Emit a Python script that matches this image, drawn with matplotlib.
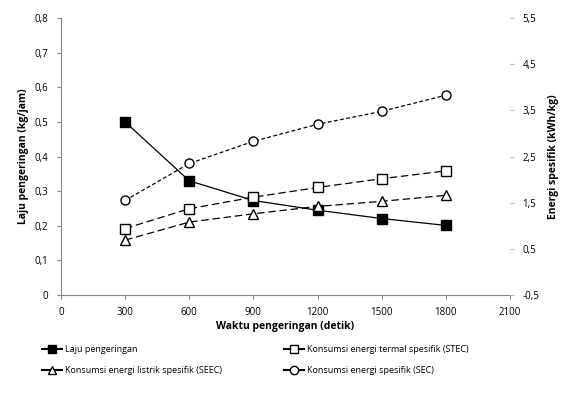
import matplotlib
matplotlib.use("Agg")
import matplotlib.pyplot as plt
from matplotlib.lines import Line2D
from matplotlib.ticker import FuncFormatter

plt.rcParams["font.family"] = ["Open Sans", "DejaVu Sans"]

# data
waktu = [300, 600, 900, 1200, 1500, 1800]
laju = [0.50, 0.33, 0.273, 0.245, 0.221, 0.201]
stec = [0.94, 1.37, 1.62, 1.83, 2.02, 2.19]
seec = [0.69, 1.08, 1.26, 1.42, 1.53, 1.66]
sec = [1.55, 2.35, 2.83, 3.20, 3.48, 3.83]

x_ticks = [0, 300, 600, 900, 1200, 1500, 1800, 2100]
left_ticks = [0, 0.1, 0.2, 0.3, 0.4, 0.5, 0.6, 0.7, 0.8]
right_ticks = [-0.5, 0.5, 1.5, 2.5, 3.5, 4.5, 5.5]

labels = ["Laju pengeringan",
          "Konsumsi energi termal spesifik (STEC)",
          "Konsumsi energi listrik spesifik (SEEC)",
          "Konsumsi energi spesifik (SEC)"]

comma = FuncFormatter(lambda v, p: ("%g" % v).replace(".", ","))

fig = plt.figure(figsize=(5.62, 4.03), dpi=100)
ax = fig.add_axes([0.1085, 0.268, 0.799, 0.687])
ax2 = ax.twinx()

ax.plot(waktu, laju, color="black", lw=0.9, marker="s", ms=7,
        mfc="black", mec="black", zorder=3)
ax2.plot(waktu, stec, color="black", lw=0.9, ls=(0, (6, 3)), marker="s",
         ms=6.5, mfc="white", mec="black")
ax2.plot(waktu, seec, color="black", lw=0.9, ls=(0, (6, 3)), marker="^",
         ms=6.5, mfc="white", mec="black")
ax2.plot(waktu, sec, color="black", lw=0.9, ls=(0, (3, 2)), marker="o",
         ms=6.5, mfc="white", mec="black")

ax.set_xlim(0, 2100)
ax.set_ylim(0, 0.8)
ax2.set_ylim(-0.5, 5.5)
ax.set_xticks(x_ticks)
ax.set_yticks(left_ticks)
ax2.set_yticks(right_ticks)
ax.yaxis.set_major_formatter(comma)
ax2.yaxis.set_major_formatter(comma)

for a in (ax, ax2):
    for s in a.spines.values():
        s.set_visible(False)
ax.spines["left"].set_visible(True)
ax.spines["bottom"].set_visible(True)
ax.spines["left"].set_color("#888888")
ax.spines["bottom"].set_color("#888888")
ax.tick_params(axis="both", labelsize=7, length=3, color="#888888", pad=6)
ax2.tick_params(axis="y", labelsize=7, length=3, color="#bbbbbb", pad=6)

ax.set_xlabel("Waktu pengeringan (detik)", fontsize=7.5, fontweight="bold",
              labelpad=2)
ax.set_ylabel("Laju pengeringan (kg/jam)", fontsize=7.5, fontweight="bold")
ax2.set_ylabel("Energi spesifik (kWh/kg)", fontsize=7.5, fontweight="bold",
               labelpad=6)

handles = [
    Line2D([], [], color="black", lw=1.5, marker="s", ms=6, mfc="black"),
    Line2D([], [], color="black", lw=1.5, marker="s", ms=6, mfc="white"),
    Line2D([], [], color="black", lw=1.5, marker="^", ms=6, mfc="white"),
    Line2D([], [], color="black", lw=1.5, marker="o", ms=6, mfc="white"),
]
order = [0, 2, 1, 3]
fig.legend([handles[i] for i in order], [labels[i] for i in order],
           loc="lower left", bbox_to_anchor=(0.06, 0.05), ncol=2,
           frameon=False, fontsize=6.5, handlelength=2.2, columnspacing=6.8,
           handletextpad=0.4, labelspacing=1.3)

fig.savefig("out.png", dpi=100)
